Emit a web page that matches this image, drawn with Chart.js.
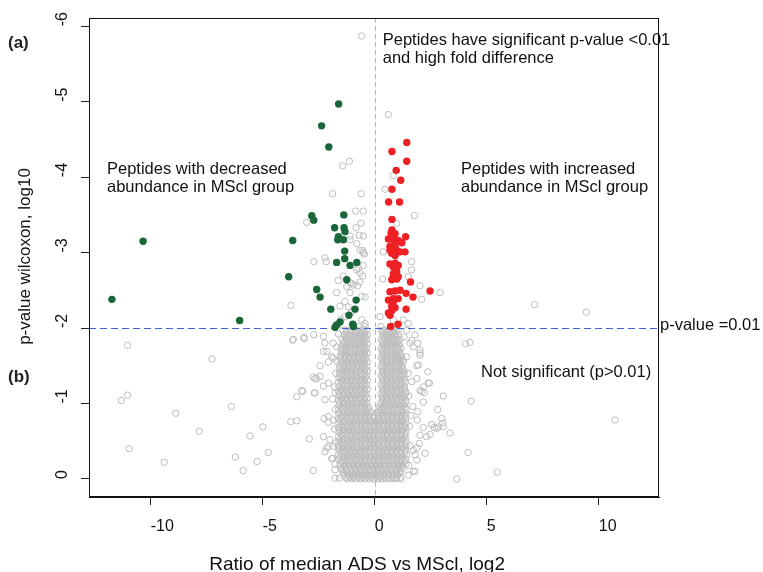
<!DOCTYPE html>
<html>
<head>
<meta charset="utf-8">
<script src="https://cdn.jsdelivr.net/npm/chart.js@4.4.0/dist/chart.umd.min.js"></script>
<style>
html,body{margin:0;padding:0;background:#fff;}
canvas{display:block;}
</style>
</head>
<body>
<canvas id="c" width="763" height="572"></canvas>
<script>
// ---- axis definitions ----
const xRange = [-12.754, 12.69];
const yRange = [-6.11, 0.24];
const xTickValues = [-10, -5, 0, 5, 10];
const yTickValues = [-6, -5, -4, -3, -2, -1, 0];
const xTitle = 'Ratio of median ADS vs MScl, log2';
const yTitle = 'p-value wilcoxon, log10';
const pThreshold = -2;      // log10(0.01)
const foldCenter = 0;

// ---- significant, decreased abundance (green) ----
const downPeptides = [
 [-1.61,-4.97],[-2.37,-4.68],[-2.05,-4.40],[-10.34,-3.15],[-3.66,-3.16],[-2.81,-3.49],[-2.72,-3.43],
 [-1.38,-3.50],[-1.79,-3.33],[-1.37,-3.33],[-1.33,-3.28],[-1.62,-3.21],[-1.65,-3.17],[-1.40,-3.17],
 [-1.34,-3.02],[-1.34,-2.92],[-1.70,-2.87],[-1.10,-2.83],[-0.80,-2.87],[-3.84,-2.68],[-1.25,-2.64],
 [-2.59,-2.51],[-11.73,-2.38],[-6.03,-2.10],[-2.44,-2.41],[-1.96,-2.25],[-0.83,-2.37],[-0.88,-2.25],
 [-1.15,-2.17],[-1.55,-2.08],[-1.70,-2.04],[-1.77,-2.01],[-0.98,-2.05],[-0.95,-2.02]
];

// ---- significant, increased abundance (red) ----
const upPeptides = [
 [1.43,-4.46],[0.77,-4.34],[1.43,-4.21],[0.96,-4.09],[1.16,-3.96],[0.77,-3.84],[0.62,-3.67],[1.11,-3.67],
 [0.77,-3.44],[0.77,-3.30],[0.73,-3.26],[0.91,-3.25],[1.38,-3.21],[0.61,-3.18],[0.83,-3.17],[1.05,-3.16],
 [1.21,-3.13],[0.68,-3.08],[0.91,-3.09],[0.98,-3.03],[0.68,-3.03],[1.13,-3.01],[1.35,-3.01],[0.76,-2.99],
 [0.91,-2.96],[0.91,-2.86],[1.05,-2.83],[0.83,-2.81],[0.68,-2.85],[0.83,-2.72],[0.98,-2.75],[0.83,-2.68],
 [1.05,-2.68],[0.76,-2.64],[0.98,-2.65],[1.60,-2.61],[2.47,-2.49],[0.68,-2.48],[0.91,-2.49],[1.13,-2.50],
 [1.40,-2.46],[0.61,-2.37],[0.83,-2.39],[1.05,-2.39],[1.71,-2.41],[0.83,-2.35],[0.76,-2.29],[0.91,-2.27],
 [1.40,-2.25],[0.61,-2.20],[0.76,-2.23],[0.68,-2.17],[0.71,-2.02],[1.04,-2.05]
];

// ---- non-significant / other peptides (grey) ----
const greyUpper = [
 [-0.58,-5.87],[0.61,-4.83],[-1.43,-4.15],[-1.13,-4.21],[0.83,-4.02],[0.46,-3.84],[-1.88,-3.78],[-0.61,-3.78],
 [-0.85,-3.55],[-0.51,-3.55],[-0.61,-3.39],[-0.83,-3.33],[-3.04,-3.40],[1.77,-3.49],[0.98,-3.39],[-1.10,-3.22],
 [-0.51,-3.22],[-1.10,-3.17],[-0.80,-3.12],[-0.69,-3.23],[-2.22,-2.93],[-2.17,-2.88],[-2.72,-2.88],[-0.54,-3.03],
 [-0.46,-2.98],[-0.51,-2.83],[-0.73,-2.79],[-0.54,-2.69],[-1.40,-2.69],[-1.10,-2.60],[-0.96,-2.57],[-0.76,-2.56],
 [0.38,-3.01],[1.65,-2.88],[0.36,-2.65],[1.50,-2.68],[2.02,-2.56],[2.92,-2.47],[2.10,-2.38],[1.65,-2.77],
 [-0.66,-2.61],[-1.03,-2.59],[-1.63,-2.63],[-1.25,-2.55],[-1.70,-2.47],[-1.10,-2.47],[-0.58,-2.42],[-0.43,-2.41],
 [-1.33,-2.35],[-1.55,-2.29],[-1.18,-2.28],[-3.74,-2.30],[-1.03,-2.22],[-1.33,-2.15],[-1.50,-2.11],[-0.58,-2.11],
 [-0.43,-2.06],[-0.73,-2.02],[-0.43,-2.02],[0.24,-2.15],[0.28,-2.02],[0.83,-2.11],[1.28,-2.11],[1.50,-2.06],
 [7.13,-2.31],[9.45,-2.21],[-0.66,-3.03],[-0.51,-3.00],[-0.80,-2.77],[-0.66,-2.73]
];
const greyOutliers = [
 [-11.03,-1.77],[-7.26,-1.59],[-11.03,-1.11],[-11.31,-1.04],[-8.88,-0.87],[-6.40,-0.96],[-7.83,-0.63],
 [-4.99,-0.69],[-5.57,-0.57],[-10.96,-0.40],[-9.39,-0.22],[-6.22,-0.29],[-4.75,-0.35],[-5.25,-0.23],
 [-5.87,-0.11],[4.06,-1.79],[4.25,-1.81],[4.30,-1.03],[10.73,-0.78],[4.17,-0.35],[5.47,-0.09],[3.66,0.0]
];
const greyHalo = [
 [-3.66,-1.84],[-3.16,-1.86],[-2.72,-1.91],[-3.26,-1.17],[-3.48,-1.09],[-3.75,-0.76],[-3.48,-0.77],
 [-2.92,-0.53],[-2.74,-0.11],[-2.70,-1.14],[-2.74,-1.35],[-2.67,-1.33],[-2.44,-1.36],[-2.44,-1.50],
 [-2.29,-1.69],[-2.22,-1.80],[-2.29,-1.23],[-2.22,-1.05],[-2.26,-0.80],[-2.07,-0.83],[-2.29,-0.56],
 [-2.00,-0.52],[-2.22,-0.36],[-1.92,-0.27],[-2.07,-0.43],[-1.77,-0.12],[-1.58,-0.01],[-1.77,-0.01],
 [-3.63,-1.85],[-3.16,-1.88],[-2.29,-1.89],[-1.85,-1.80],[-1.70,-1.75],[-2.14,-1.69],[-1.92,-1.62],
 [-2.07,-1.55],[-1.85,-1.60],[-2.59,-1.33],[-2.07,-1.27],[-3.21,-1.16],[-2.67,-1.14],[-1.88,-1.06],
 [-1.77,-1.14],[-2.07,-0.75],[-1.85,-0.78],[-2.14,-0.41],[-1.85,-0.43],[-1.88,-0.27],
 [-1.78,-0.20],[-1.74,-0.48],[-1.80,-0.66],[-1.76,-0.92],[-1.80,-1.22],[-1.74,-1.40],[-1.70,-1.56],[-1.62,-1.92],
 [3.06,-1.10],[2.39,-1.27],[2.37,-1.42],[2.81,-0.92],[2.99,-0.80],[3.06,-0.69],[2.84,-0.69],[3.36,-0.61],
 [2.25,-0.34],[2.02,-1.67],[2.02,-1.64],[1.88,-1.50],[1.92,-1.80],[1.65,-1.84],[2.02,-1.17],[2.17,-1.22],
 [2.21,-1.14],[2.17,-1.02],[1.92,-0.89],[2.47,-0.59],[2.54,-0.72],[2.66,-0.68],[1.99,-0.47],[1.72,-0.38],
 [1.88,-0.25],[1.80,-0.10],[1.50,-0.05],[1.17,0.0],[0.98,-0.01],[1.80,-1.91],[1.58,-1.80],[1.72,-1.75],
 [2.02,-1.71],[1.05,-1.97],[0.91,-2.00],[1.43,-1.97],[1.95,-1.51],[2.44,-1.27],[1.88,-1.33],[1.65,-1.29],
 [2.10,-1.16],[1.70,-0.96],[1.90,-0.78],[3.04,-0.74],[2.77,-0.67],[2.17,-0.68],[2.02,-0.58],[2.32,-0.56],
 [1.88,-0.41],[1.80,-0.32],[1.72,-0.10],[1.13,-0.02],
 [1.52,-0.18],[1.58,-0.44],[1.55,-0.70],[1.60,-0.84],[1.52,-1.10],[1.50,-1.40],[1.42,-1.62],[1.30,-1.88]
];
// dense core, read row by row: [log10 p, [log2 ratios...]]
const greyCoreRows = [
 [0.00, [-1.22,-1.02,-0.83,-0.62,-0.44,-0.25,-0.05,0.14,0.33,0.52,0.71,0.90]],
 [-0.05,[-1.38,-1.15,-0.94,-0.73,-0.53,-0.34,-0.15,0.04,0.24,0.43,0.62,0.81,1.02]],
 [-0.11,[-1.45,-1.26,-1.05,-0.85,-0.64,-0.45,-0.24,-0.05,0.15,0.34,0.53,0.74,0.93,1.14]],
 [-0.17,[-1.52,-1.33,-1.13,-0.93,-0.73,-0.54,-0.35,-0.14,0.05,0.25,0.45,0.64,0.84,1.04,1.22]],
 [-0.23,[-1.48,-1.27,-1.06,-0.86,-0.65,-0.45,-0.26,-0.05,0.15,0.35,0.55,0.74,0.95,1.15,1.33]],
 [-0.29,[-1.55,-1.36,-1.15,-0.95,-0.76,-0.55,-0.36,-0.15,0.06,0.25,0.46,0.65,0.85,1.05,1.24]],
 [-0.35,[-1.50,-1.30,-1.08,-0.88,-0.67,-0.47,-0.27,-0.06,0.15,0.34,0.54,0.75,0.96,1.16,1.35]],
 [-0.41,[-1.57,-1.37,-1.17,-0.97,-0.77,-0.56,-0.37,-0.16,0.04,0.24,0.44,0.65,0.86,1.06,1.26]],
 [-0.47,[-1.50,-1.29,-1.08,-0.87,-0.66,-0.46,-0.26,-0.07,0.14,0.35,0.56,0.76,0.97,1.17,1.36]],
 [-0.53,[-1.56,-1.37,-1.18,-0.97,-0.76,-0.55,-0.35,-0.16,0.05,0.25,0.46,0.66,0.86,1.07,1.27]],
 [-0.59,[-1.49,-1.28,-1.07,-0.86,-0.66,-0.46,-0.27,-0.07,0.14,0.35,0.55,0.76,0.96,1.16,1.35]],
 [-0.65,[-1.56,-1.35,-1.16,-0.96,-0.75,-0.55,-0.36,-0.16,0.05,0.25,0.45,0.66,0.87,1.07,1.26]],
 [-0.71,[-1.48,-1.27,-1.06,-0.86,-0.65,-0.45,-0.26,-0.06,0.15,0.35,0.56,0.76,0.97,1.17,1.34]],
 [-0.77,[-1.55,-1.34,-1.14,-0.94,-0.74,-0.54,-0.34,-0.15,0.06,0.26,0.46,0.66,0.87,1.07,1.27]],
 [-0.83,[-1.49,-1.27,-1.06,-0.85,-0.65,-0.45,-0.27,-0.08,0.14,0.34,0.55,0.76,0.96,1.16,1.33]],
 [-0.89,[-1.56,-1.35,-1.15,-0.95,-0.74,-0.54,-0.35,-0.18,0.12,0.28,0.47,0.67,0.87,1.07,1.26]],
 [-0.95,[-1.50,-1.28,-1.07,-0.86,-0.65,-0.45,-0.27,0.20,0.37,0.57,0.77,0.97,1.17,1.35]],
 [-1.01,[-1.57,-1.37,-1.16,-0.96,-0.76,-0.55,-0.35,0.27,0.45,0.64,0.83,1.02,1.21,1.37]],
 [-1.07,[-1.49,-1.28,-1.07,-0.87,-0.66,-0.47,-0.33,0.33,0.54,0.74,0.94,1.13,1.31]],
 [-1.13,[-1.58,-1.37,-1.17,-0.97,-0.77,-0.56,-0.38,0.29,0.45,0.64,0.85,1.04,1.24,1.38]],
 [-1.19,[-1.49,-1.27,-1.07,-0.86,-0.66,-0.47,-0.33,0.35,0.55,0.75,0.95,1.15,1.32]],
 [-1.25,[-1.55,-1.36,-1.16,-0.96,-0.76,-0.56,-0.38,0.29,0.46,0.66,0.86,1.05,1.24]],
 [-1.31,[-1.47,-1.27,-1.06,-0.86,-0.66,-0.47,-0.33,0.36,0.56,0.76,0.96,1.15,1.33]],
 [-1.37,[-1.55,-1.35,-1.15,-0.95,-0.75,-0.55,-0.37,0.29,0.46,0.66,0.86,1.06,1.24]],
 [-1.43,[-1.47,-1.26,-1.05,-0.85,-0.65,-0.46,-0.33,0.35,0.56,0.76,0.95,1.14,1.30]],
 [-1.49,[-1.54,-1.34,-1.14,-0.94,-0.74,-0.55,-0.37,0.29,0.46,0.66,0.86,1.05,1.22]],
 [-1.55,[-1.45,-1.25,-1.05,-0.85,-0.65,-0.46,-0.33,0.36,0.56,0.75,0.94,1.13,1.28]],
 [-1.61,[-1.53,-1.33,-1.13,-0.93,-0.74,-0.54,-0.37,0.29,0.46,0.65,0.85,1.04,1.20]],
 [-1.67,[-1.44,-1.24,-1.04,-0.84,-0.64,-0.46,-0.33,0.36,0.55,0.74,0.93,1.12]],
 [-1.73,[-1.50,-1.31,-1.12,-0.92,-0.73,-0.54,-0.37,0.29,0.46,0.65,0.84,1.02,1.18]],
 [-1.79,[-1.40,-1.22,-1.03,-0.83,-0.63,-0.46,-0.33,0.36,0.55,0.73,0.92,1.08]],
 [-1.85,[-1.46,-1.27,-1.08,-0.90,-0.71,-0.53,-0.37,0.30,0.46,0.64,0.82,1.00,1.14]],
 [-1.91,[-1.36,-1.17,-0.98,-0.80,-0.61,-0.45,-0.33,0.37,0.55,0.72,0.90,1.05]],
 [-1.97,[-1.42,-1.24,-1.05,-0.87,-0.69,-0.52,-0.37,0.31,0.47,0.64,0.82,0.98]]
];
// second pass over the dense core (points lying between the rows above)
const greyCoreRowsB = [
 [-0.02,[-1.30,-1.12,-0.93,-0.72,-0.54,-0.35,-0.15,0.05,0.23,0.43,0.61,0.80,0.98]],
 [-0.08,[-1.40,-1.21,-1.00,-0.80,-0.60,-0.40,-0.20,0.00,0.20,0.40,0.60,0.79,0.99,1.15]],
 [-0.14,[-1.48,-1.28,-1.08,-0.88,-0.68,-0.48,-0.29,-0.09,0.11,0.30,0.50,0.70,0.90,1.10,1.27]],
 [-0.20,[-1.55,-1.38,-1.17,-0.97,-0.77,-0.57,-0.37,-0.17,0.03,0.23,0.43,0.63,0.83,1.03,1.22,1.40]],
 [-0.26,[-1.60,-1.42,-1.22,-1.02,-0.82,-0.62,-0.42,-0.22,-0.02,0.18,0.38,0.58,0.78,0.98,1.18,1.38]],
 [-0.32,[-1.62,-1.40,-1.20,-1.00,-0.80,-0.60,-0.40,-0.20,0.00,0.20,0.40,0.60,0.80,1.00,1.20,1.42]],
 [-0.38,[-1.60,-1.44,-1.24,-1.04,-0.84,-0.64,-0.44,-0.24,-0.04,0.16,0.36,0.56,0.76,0.96,1.16,1.36]],
 [-0.44,[-1.62,-1.42,-1.22,-1.02,-0.82,-0.62,-0.42,-0.22,-0.02,0.18,0.38,0.58,0.78,0.98,1.18,1.40]],
 [-0.50,[-1.60,-1.40,-1.20,-1.00,-0.80,-0.60,-0.40,-0.20,0.00,0.20,0.40,0.60,0.80,1.00,1.20,1.40]],
 [-0.56,[-1.62,-1.44,-1.24,-1.04,-0.84,-0.64,-0.44,-0.24,-0.04,0.16,0.36,0.56,0.76,0.96,1.16,1.36]],
 [-0.62,[-1.60,-1.40,-1.20,-1.00,-0.80,-0.60,-0.40,-0.20,0.00,0.20,0.40,0.60,0.80,1.00,1.20,1.40]],
 [-0.68,[-1.62,-1.42,-1.22,-1.02,-0.82,-0.62,-0.42,-0.22,-0.02,0.18,0.38,0.58,0.78,0.98,1.18,1.38]],
 [-0.74,[-1.60,-1.40,-1.20,-1.00,-0.80,-0.60,-0.40,-0.20,0.00,0.20,0.40,0.60,0.80,1.00,1.20,1.40]],
 [-0.80,[-1.62,-1.44,-1.24,-1.04,-0.84,-0.64,-0.44,-0.24,-0.04,0.18,0.38,0.58,0.78,0.98,1.18,1.38]],
 [-0.86,[-1.60,-1.40,-1.20,-1.00,-0.80,-0.60,-0.40,-0.22,0.20,0.40,0.60,0.80,1.00,1.20,1.40]],
 [-0.92,[-1.62,-1.42,-1.22,-1.02,-0.82,-0.62,-0.42,-0.30,0.24,0.42,0.62,0.82,1.02,1.22,1.40]],
 [-0.98,[-1.60,-1.40,-1.20,-1.00,-0.80,-0.60,-0.42,0.30,0.50,0.70,0.90,1.10,1.30]],
 [-1.04,[-1.62,-1.45,-1.25,-1.05,-0.85,-0.65,-0.45,0.38,0.58,0.78,0.98,1.18,1.38]],
 [-1.10,[-1.60,-1.40,-1.20,-1.00,-0.80,-0.60,-0.42,0.34,0.52,0.72,0.92,1.12,1.32]],
 [-1.16,[-1.62,-1.45,-1.25,-1.05,-0.85,-0.65,-0.45,0.38,0.58,0.78,0.98,1.18,1.38]],
 [-1.22,[-1.60,-1.40,-1.20,-1.00,-0.80,-0.60,-0.42,0.34,0.52,0.72,0.92,1.12,1.32]],
 [-1.28,[-1.62,-1.45,-1.25,-1.05,-0.85,-0.65,-0.45,0.38,0.58,0.78,0.98,1.18,1.36]],
 [-1.34,[-1.60,-1.40,-1.20,-1.00,-0.80,-0.60,-0.42,0.34,0.52,0.72,0.92,1.12,1.30]],
 [-1.40,[-1.58,-1.43,-1.24,-1.04,-0.84,-0.64,-0.45,0.38,0.58,0.78,0.98,1.18,1.32]],
 [-1.46,[-1.57,-1.38,-1.18,-0.98,-0.78,-0.58,-0.42,0.34,0.52,0.72,0.92,1.10,1.26]],
 [-1.52,[-1.55,-1.40,-1.20,-1.00,-0.80,-0.60,-0.45,0.38,0.58,0.78,0.98,1.16]],
 [-1.58,[-1.50,-1.34,-1.15,-0.96,-0.76,-0.58,-0.42,0.34,0.52,0.72,0.92,1.10,1.24]],
 [-1.64,[-1.52,-1.34,-1.14,-0.94,-0.74,-0.55,-0.45,0.38,0.58,0.78,0.98,1.14]],
 [-1.70,[-1.46,-1.28,-1.08,-0.88,-0.68,-0.50,-0.42,0.34,0.52,0.72,0.92,1.08]],
 [-1.76,[-1.45,-1.26,-1.06,-0.86,-0.66,-0.48,0.38,0.58,0.78,0.96,1.10]],
 [-1.82,[-1.38,-1.18,-0.98,-0.78,-0.60,-0.44,0.34,0.52,0.70,0.88,1.04]],
 [-1.88,[-1.30,-1.10,-0.90,-0.70,-0.52,-0.42,0.40,0.60,0.78,0.96]],
 [-1.94,[-1.28,-1.08,-0.88,-0.70,-0.55,-0.44,0.36,0.52,0.70,0.86]]
];

// ---- text ----
const annotations = [
 {text:'Peptides have significant p-value <0.01', x:382.7, y:44.5},
 {text:'and high fold difference', x:382.7, y:62.5},
 {text:'Peptides with decreased', x:107, y:173.5},
 {text:'abundance in MScl group', x:107, y:192},
 {text:'Peptides with increased', x:461, y:173.5},
 {text:'abundance in MScl group', x:461, y:192},
 {text:'Not significant (p>0.01)', x:481, y:376.5},
 {text:'p-value =0.01', x:660, y:330}
];
const panelLabels = [{text:'(a)', x:8, y:48}, {text:'(b)', x:8, y:381.5}];

// ---- build datasets ----
const toPts = arr => arr.map(p => ({x: p[0], y: p[1]}));
const rowsToPts = rows => {
  const out = [];
  rows.forEach(r => r[1].forEach(v => out.push({x: v, y: r[0]})));
  return out;
};
const greyPts = toPts(greyOutliers).concat(toPts(greyUpper), toPts(greyHalo),
                rowsToPts(greyCoreRows), rowsToPts(greyCoreRowsB));

const FONT = "'Liberation Sans', Arial, sans-serif";

const overlay = {
  id: 'overlay',
  afterDatasetDraw(chart, args) {
    if (args.index !== 2) return;
    const {ctx, chartArea: a, scales: {x, y}} = chart;
    ctx.save();
    ctx.beginPath(); ctx.rect(a.left, a.top, a.right - a.left, a.bottom - a.top); ctx.clip();
    ctx.lineWidth = 1;
    ctx.strokeStyle = '#b8b8b8'; ctx.setLineDash([5, 3]);
    const xp = Math.round(x.getPixelForValue(foldCenter)) + 0.5;
    ctx.beginPath(); ctx.moveTo(xp, a.top); ctx.lineTo(xp, a.bottom); ctx.stroke();
    ctx.strokeStyle = '#4163d6'; ctx.setLineDash([7, 4]);
    const yp = Math.round(y.getPixelForValue(pThreshold)) + 0.5;
    ctx.beginPath(); ctx.moveTo(a.left, yp); ctx.lineTo(a.right, yp); ctx.stroke();
    ctx.restore();
  },
  afterDraw(chart) {
    const {ctx, chartArea: a, scales: {y}} = chart;
    ctx.save();
    ctx.strokeStyle = '#111'; ctx.lineWidth = 1; ctx.setLineDash([]);
    ctx.strokeRect(Math.round(a.left) + 0.5, Math.round(a.top) + 0.5,
                   Math.round(a.right - a.left) - 1, Math.round(a.bottom - a.top) - 1);
    ctx.fillStyle = '#111';
    ctx.font = '16px ' + FONT;
    ctx.textBaseline = 'alphabetic';
    y.ticks.forEach(t => {
      const py = y.getPixelForValue(t.value);
      ctx.save();
      ctx.translate(66.7, py);
      ctx.rotate(-Math.PI / 2);
      ctx.textAlign = 'left';
      ctx.fillText(String(t.value), 0, 0);
      ctx.restore();
    });
    ctx.save();
    ctx.font = '17px ' + FONT;
    ctx.translate(30, 256.5);
    ctx.rotate(-Math.PI / 2);
    ctx.textAlign = 'center';
    ctx.fillText(yTitle, 0, 0);
    ctx.restore();
    ctx.font = '19px ' + FONT;
    ctx.textAlign = 'left';
    ctx.fillText(xTitle, 209.3, 569.5);
    ctx.font = '16.5px ' + FONT;
    annotations.forEach(t => ctx.fillText(t.text, t.x, t.y));
    ctx.font = 'bold 17px ' + FONT;
    ctx.fillStyle = '#222';
    panelLabels.forEach(t => ctx.fillText(t.text, t.x, t.y));
    ctx.restore();
  }
};

new Chart(document.getElementById('c'), {
  type: 'scatter',
  data: {
    datasets: [
      {label: 'decreased', data: toPts(downPeptides), pointRadius: 3.7, pointBackgroundColor: '#18663a', pointBorderWidth: 0, pointBorderColor: '#18663a'},
      {label: 'increased', data: toPts(upPeptides), pointRadius: 3.7, pointBackgroundColor: '#ee2024', pointBorderWidth: 0, pointBorderColor: '#ee2024'},
      {label: 'all', data: greyPts, pointRadius: 3.2, pointBackgroundColor: 'rgba(0,0,0,0)', pointBorderColor: '#bdbdbd', pointBorderWidth: 1}
    ]
  },
  options: {
    responsive: false,
    animation: false,
    events: [],
    layout: {padding: {left: 0, right: 104, top: 18, bottom: 0}},
    plugins: {legend: {display: false}, tooltip: {enabled: false}},
    scales: {
      x: {
        type: 'linear', min: xRange[0], max: xRange[1],
        afterBuildTicks: s => { s.ticks = xTickValues.map(v => ({value: v})); },
        afterFit: s => { s.height = 75; },
        ticks: {font: {size: 16, family: FONT}, color: '#111', align: 'start', padding: 11.6, maxRotation: 0, autoSkip: false, includeBounds: false},
        grid: {display: true, drawOnChartArea: false, drawTicks: true, tickLength: 8, color: '#222'},
        border: {display: true, color: '#111'}
      },
      y: {
        type: 'linear', min: yRange[0], max: yRange[1], reverse: true,
        afterBuildTicks: s => { s.ticks = yTickValues.map(v => ({value: v})); },
        afterFit: s => { s.width = 89; },
        ticks: {color: 'rgba(0,0,0,0)', font: {size: 16, family: FONT}, includeBounds: false, autoSkip: false},
        grid: {display: true, drawOnChartArea: false, drawTicks: true, tickLength: 8, color: '#222'},
        border: {display: true, color: '#111'}
      }
    }
  },
  plugins: [overlay]
});
</script>
</body>
</html>
